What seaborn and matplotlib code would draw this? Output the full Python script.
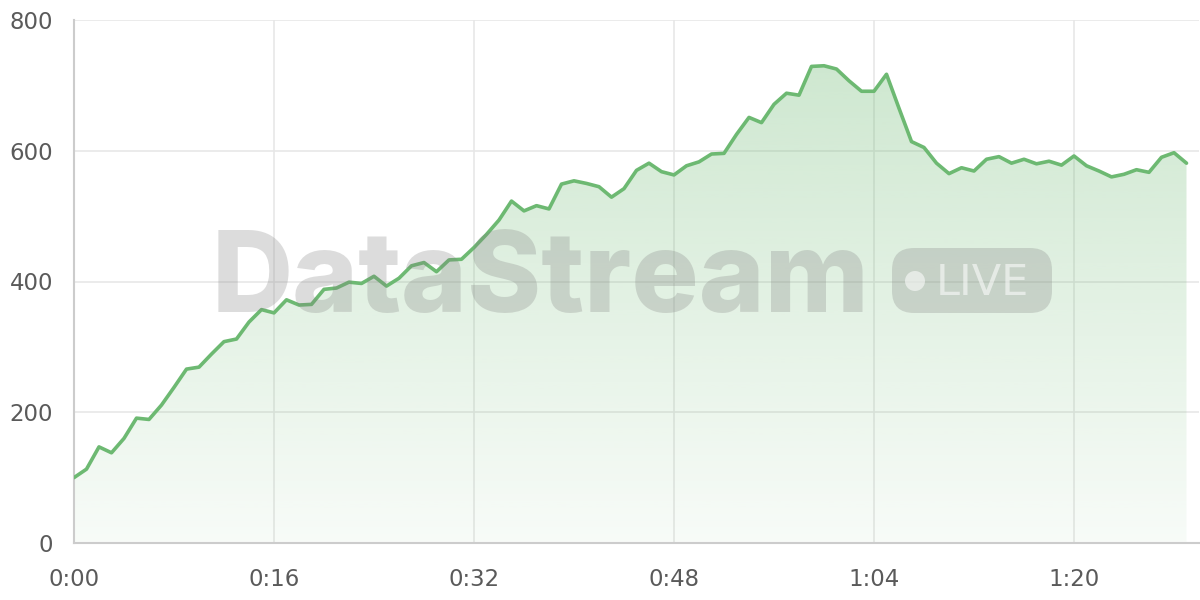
import matplotlib
matplotlib.use("Agg")
import matplotlib.pyplot as plt
import seaborn as sns
import pandas as pd
import numpy as np
from matplotlib.colors import to_rgb
from matplotlib.patches import FancyBboxPatch, Circle
from matplotlib.transforms import IdentityTransform

# viewers per second of the stream
seconds = list(range(90))
viewers = [100, 113, 147, 138, 160, 191, 189, 211, 238, 266,
           269, 289, 308, 312, 338, 357, 352, 372, 364, 365,
           388, 390, 399, 397, 408, 393, 405, 424, 429, 415,
           433, 434, 452, 472, 494, 523, 508, 516, 511, 549,
           554, 550, 545, 529, 542, 570, 581, 568, 563, 577,
           583, 595, 596, 625, 651, 643, 671, 688, 685, 729,
           730, 725, 707, 691, 691, 717, 665, 614, 605, 581,
           565, 574, 569, 587, 591, 581, 587, 580, 584, 578,
           592, 577, 569, 560, 564, 571, 567, 590, 597, 581]

x_ticks = [0, 16, 32, 48, 64, 80]
x_labels = ["0:00", "0:16", "0:32", "0:48", "1:04", "1:20"]
y_ticks = [0, 200, 400, 600, 800]

GREEN = "#6db972"

sns.set_style("whitegrid", {"grid.color": "#e6e6e6", "axes.edgecolor": "#cccccc"})
plt.rcParams["font.family"] = ["DejaVu Sans"]

df = pd.DataFrame({"t": seconds, "viewers": viewers})

fig = plt.figure(figsize=(12, 6), dpi=100)
ax = fig.add_axes([74 / 1200, 57 / 600, 1125 / 1200, 523 / 600])

# gradient fill under the line
poly = ax.fill_between(df.t, df.viewers, 0, color="none", lw=0)
grad = np.zeros((256, 1, 4))
grad[:, :, :3] = to_rgb(GREEN)
grad[:, 0, 3] = np.linspace(0.05, 0.36, 256)
img = ax.imshow(grad, aspect="auto", origin="lower", extent=[0, 90, 0, 800], zorder=1)
img.set_clip_path(poly.get_paths()[0], transform=ax.transData)

sns.lineplot(data=df, x="t", y="viewers", color=GREEN, linewidth=2.6, ax=ax, zorder=3)

ax.set_xlim(0, 90)
ax.set_ylim(0, 800)
ax.set_xticks(x_ticks)
ax.set_xticklabels(x_labels)
ax.set_yticks(y_ticks)
ax.set_xlabel("")
ax.set_ylabel("")
ax.grid(True, color="#e6e6e6", linewidth=1.1)
ax.set_axisbelow(True)
for side in ["top", "right"]:
    ax.spines[side].set_visible(False)
for side in ["left", "bottom"]:
    ax.spines[side].set_color("#cccccc")
    ax.spines[side].set_linewidth(1.5)
ax.tick_params(axis="both", length=11, width=1.1, color="#dddddd",
               labelsize=16.5, labelcolor="#5a5a5a")
ax.tick_params(axis="x", pad=7)
ax.tick_params(axis="y", pad=4)

# watermark
wm = fig.text(212, 288, "DataStream", transform=IdentityTransform(),
              fontsize=80, fontweight="heavy", family=["Inter", "DejaVu Sans"],
              color="#808080", alpha=0.27, ha="left", va="baseline", zorder=10)
fig.canvas.draw()
w = wm.get_window_extent().width
wm.set_fontsize(80 * 658 / w)

pill = FancyBboxPatch((892, 287), 160, 65, boxstyle="round,pad=0,rounding_size=22",
                      transform=IdentityTransform(), facecolor="#808080", alpha=0.27,
                      edgecolor="none", zorder=10)
fig.patches.append(pill)
dot = Circle((915, 319), 10, transform=IdentityTransform(), facecolor="white",
             alpha=0.55, edgecolor="none", zorder=11)
fig.patches.append(dot)
fig.text(936, 305, "LIVE", transform=IdentityTransform(), fontsize=31,
         color="white", alpha=0.55, ha="left", va="baseline", zorder=11)

fig.savefig("out.png", dpi=100)
